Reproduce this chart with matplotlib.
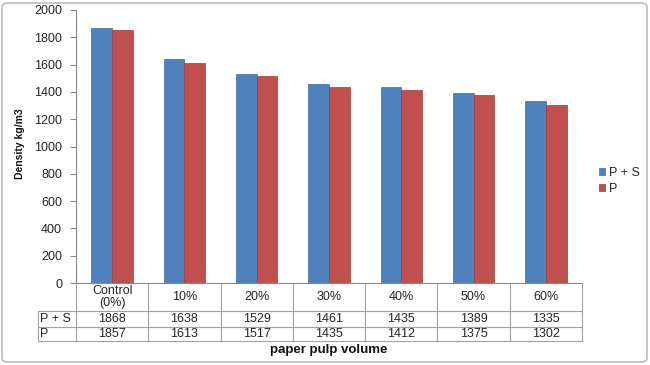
import matplotlib
matplotlib.use("Agg")
import matplotlib.pyplot as plt
from matplotlib.patches import FancyBboxPatch
from matplotlib.lines import Line2D

categories = ["Control\n(0%)", "10%", "20%", "30%", "40%", "50%", "60%"]
series_names = ["P + S", "P"]
ps_values = [1868, 1638, 1529, 1461, 1435, 1389, 1335]
p_values = [1857, 1613, 1517, 1435, 1412, 1375, 1302]
y_ticks = [0, 200, 400, 600, 800, 1000, 1200, 1400, 1600, 1800, 2000]

colors = ["#4F81BD", "#C0504D"]
edge_colors = ["#3C6A9E", "#9E3B38"]
font = ["Liberation Sans", "DejaVu Sans"]
plt.rcParams['font.family'] = font
FS = 9
TXT = "#262626"

W, H = 650, 365
fig = plt.figure(figsize=(6.5, 3.65), dpi=100)

def fx(px):
    return px / W

def fy(py):
    return 1 - py / H

# border
fig.patches.append(FancyBboxPatch((fx(2), fy(362)), fx(645), fy(3) - fy(362),
                                  boxstyle="round,pad=0,rounding_size=0.01",
                                  transform=fig.transFigure, fill=False,
                                  edgecolor="#B0B0B0", linewidth=1.0))

left_px, right_px, top_px, bottom_px = 76, 582, 10, 283
ax = fig.add_axes([fx(left_px), fy(bottom_px), fx(right_px - left_px), fy(top_px) - fy(bottom_px)])

n = len(categories)
bw = 1 / 3.5
xs = list(range(n))
ax.bar([x - bw / 2 for x in xs], ps_values, width=bw, color=colors[0],
       edgecolor=edge_colors[0], linewidth=0.5, label=series_names[0])
ax.bar([x + bw / 2 for x in xs], p_values, width=bw, color=colors[1],
       edgecolor=edge_colors[1], linewidth=0.5, label=series_names[1])

ax.set_xlim(-0.5, n - 0.5)
ax.set_ylim(0, 2000)
ax.set_yticks(y_ticks)
ax.set_yticklabels([str(t) for t in y_ticks], fontsize=FS, color=TXT)
ax.tick_params(axis="y", length=4, width=0.8, color="#888888", pad=6)
ax.set_xticks([])
for s in ["top", "right"]:
    ax.spines[s].set_visible(False)
for s in ["left", "bottom"]:
    ax.spines[s].set_color("#888888")
    ax.spines[s].set_linewidth(0.8)

fig.text(fx(20), fy(144), "Density kg/m3", rotation=90, ha="center", va="center",
         fontsize=7.5, fontweight="bold", color="#111111")

# data table
row_y = [283, 311, 327, 341]
label_left = 38
line_kw = dict(color="#A0A0A0", linewidth=0.8, transform=fig.transFigure)
col_w = (right_px - left_px) / n
for i in range(n + 1):
    x = left_px + i * col_w
    fig.add_artist(Line2D([fx(x), fx(x)], [fy(row_y[0]), fy(row_y[3])], **line_kw))
fig.add_artist(Line2D([fx(label_left), fx(label_left)], [fy(row_y[1]), fy(row_y[3])], **line_kw))
for yy in row_y[1:]:
    fig.add_artist(Line2D([fx(label_left), fx(right_px)], [fy(yy), fy(yy)], **line_kw))

for i, cat in enumerate(categories):
    cx = left_px + (i + 0.5) * col_w
    fig.text(fx(cx), fy((row_y[0] + row_y[1]) / 2), cat, ha="center", va="center",
             fontsize=FS, color=TXT, linespacing=1.0)
    fig.text(fx(cx), fy((row_y[1] + row_y[2]) / 2), str(ps_values[i]), ha="center",
             va="center", fontsize=FS, color=TXT)
    fig.text(fx(cx), fy((row_y[2] + row_y[3]) / 2), str(p_values[i]), ha="center",
             va="center", fontsize=FS, color=TXT)
fig.text(fx(label_left + 2), fy((row_y[1] + row_y[2]) / 2), series_names[0], ha="left",
         va="center", fontsize=FS, color=TXT)
fig.text(fx(label_left + 2), fy((row_y[2] + row_y[3]) / 2), series_names[1], ha="left",
         va="center", fontsize=FS, color=TXT)

fig.text(fx((left_px + right_px) / 2), fy(350), "paper pulp volume", ha="center",
         va="center", fontsize=9.5, fontweight="bold", color="#111111")

# legend
leg = fig.legend(loc="center left", bbox_to_anchor=(fx(594), fy(181)), frameon=False,
                 fontsize=FS, handlelength=0.45, handleheight=0.45, handletextpad=0.35,
                 labelspacing=0.3, borderaxespad=0, labelcolor=TXT)

fig.savefig("out.png", dpi=100)
